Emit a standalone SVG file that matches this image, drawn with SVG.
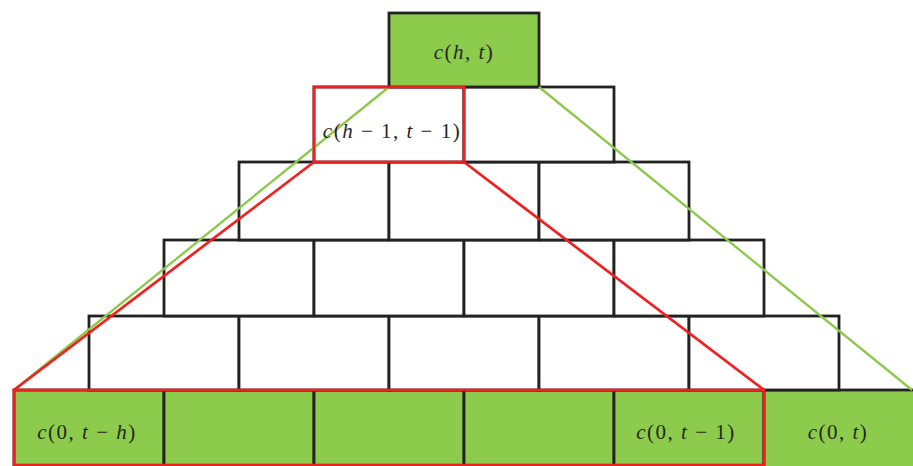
<svg xmlns="http://www.w3.org/2000/svg" width="913" height="466" viewBox="0 0 913 466">
<style>
.cell{fill:#ffffff;stroke:#222;stroke-width:2.8}
.g{fill:#8ccb4c}
.lbl{font-family:"Liberation Serif",serif;font-size:21px;letter-spacing:1.5px;fill:#26261c;text-anchor:middle}
.i{font-style:italic}
.gl{stroke:#8cc84a;stroke-width:2.3;fill:none}
.rl{stroke:#f02020;stroke-width:2.7;fill:none}
</style>
<rect width="913" height="466" fill="#ffffff"/>
<g id="row5">
<rect class="cell g" x="14" y="390" width="150" height="78"/>
<rect class="cell g" x="164" y="390" width="150" height="78"/>
<rect class="cell g" x="314" y="390" width="150" height="78"/>
<rect class="cell g" x="464" y="390" width="150" height="78"/>
<rect class="cell g" x="614" y="390" width="150" height="78"/>
<rect class="cell g" x="764" y="390" width="152" height="78"/>
</g>
<g id="row4">
<rect class="cell" x="89" y="316" width="150" height="74"/>
<rect class="cell" x="239" y="316" width="150" height="74"/>
<rect class="cell" x="389" y="316" width="150" height="74"/>
<rect class="cell" x="539" y="316" width="150" height="74"/>
<rect class="cell" x="689" y="316" width="150" height="74"/>
</g>
<g id="row3">
<rect class="cell" x="164" y="240" width="150" height="76"/>
<rect class="cell" x="314" y="240" width="150" height="76"/>
<rect class="cell" x="464" y="240" width="150" height="76"/>
<rect class="cell" x="614" y="240" width="150" height="76"/>
</g>
<g id="row2">
<rect class="cell" x="239" y="162" width="150" height="78"/>
<rect class="cell" x="389" y="162" width="150" height="78"/>
<rect class="cell" x="539" y="162" width="150" height="78"/>
</g>
<g id="row1">
<rect class="cell" x="314" y="87" width="150" height="75"/>
<rect class="cell" x="464" y="87" width="150" height="75"/>
</g>
<g id="top">
<rect class="cell g" x="389" y="13" width="150" height="74"/>
</g>
<g id="connectors">
<line class="gl" x1="389" y1="87" x2="14" y2="390"/>
<line class="gl" x1="539" y1="87" x2="912" y2="390"/>
<rect class="rl" x="314" y="87" width="150" height="75"/>
<line class="rl" x1="314" y1="162" x2="14" y2="390"/>
<line class="rl" x1="464" y1="162" x2="764" y2="390"/>
<rect class="rl" x="14" y="390" width="750" height="75"/>
</g>
<g id="labels">
<text class="lbl" x="464" y="59"><tspan class="i">c</tspan>(<tspan class="i">h</tspan>, <tspan class="i">t</tspan>)</text>
<text class="lbl" x="392" y="138"><tspan class="i">c</tspan>(<tspan class="i">h</tspan> − 1, <tspan class="i">t</tspan> − 1)</text>
<text class="lbl" x="87" y="439"><tspan class="i">c</tspan>(0, <tspan class="i">t</tspan> − <tspan class="i">h</tspan>)</text>
<text class="lbl" x="686" y="439"><tspan class="i">c</tspan>(0, <tspan class="i">t</tspan> − 1)</text>
<text class="lbl" x="838" y="439"><tspan class="i">c</tspan>(0, <tspan class="i">t</tspan>)</text>
</g>
</svg>
